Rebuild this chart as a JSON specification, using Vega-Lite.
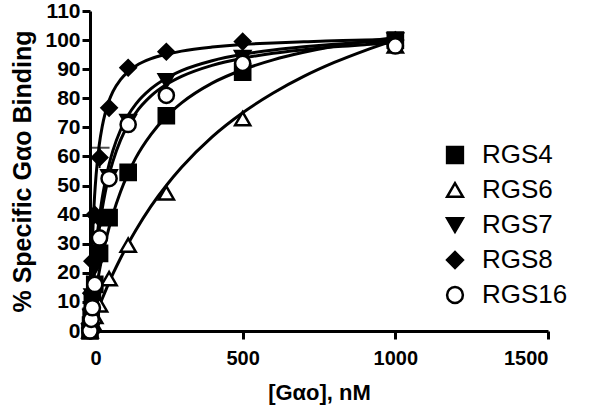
{
  "$schema": "https://vega.github.io/schema/vega-lite/v6.json",
  "width": 458,
  "height": 320,
  "autosize": "none",
  "padding": {"left": 90, "top": 11, "right": 52, "bottom": 82},
  "background": "white",
  "config": {
    "view": {"stroke": null},
    "font": "Liberation Sans",
    "axis": {"grid": false, "domainColor": "black", "domainWidth": 3, "tickColor": "black", "tickWidth": 3, "tickSize": 8, "labelFont": "Liberation Sans", "labelFontWeight": "bold", "labelFontSize": 20, "labelColor": "black", "titleFont": "Liberation Sans", "titleFontWeight": "bold", "titleFontSize": 22, "titleColor": "black"},
    "legend": {"orient": "none", "legendX": 352, "legendY": 131, "labelFont": "Liberation Sans", "labelFontSize": 26, "labelColor": "black", "symbolSize": 250, "symbolStrokeWidth": 2.5, "rowPadding": 9, "labelOffset": 14, "labelLimit": 200}
  },
  "datasets": {
    "fits": [
      {"series": "RGS4", "x": 0, "y": 0}, {"series": "RGS4", "x": 2, "y": 1.62}, {"series": "RGS4", "x": 5, "y": 3.97}, {"series": "RGS4", "x": 10, "y": 7.67}, {"series": "RGS4", "x": 15, "y": 11.1}, {"series": "RGS4", "x": 20, "y": 14.4}, {"series": "RGS4", "x": 30, "y": 20.3}, {"series": "RGS4", "x": 40, "y": 25.6}, {"series": "RGS4", "x": 50, "y": 30.3}, {"series": "RGS4", "x": 62.5, "y": 35.5}, {"series": "RGS4", "x": 75, "y": 40.1}, {"series": "RGS4", "x": 100, "y": 47.9}, {"series": "RGS4", "x": 125, "y": 54.2}, {"series": "RGS4", "x": 150, "y": 59.5}, {"series": "RGS4", "x": 200, "y": 67.6}, {"series": "RGS4", "x": 250, "y": 73.7}, {"series": "RGS4", "x": 300, "y": 78.4}, {"series": "RGS4", "x": 400, "y": 85.2}, {"series": "RGS4", "x": 500, "y": 89.8}, {"series": "RGS4", "x": 600, "y": 93.2}, {"series": "RGS4", "x": 700, "y": 95.8}, {"series": "RGS4", "x": 800, "y": 97.9}, {"series": "RGS4", "x": 900, "y": 99.5}, {"series": "RGS4", "x": 1000, "y": 100.9},
      {"series": "RGS6", "x": 0, "y": 0}, {"series": "RGS6", "x": 2, "y": 0.6}, {"series": "RGS6", "x": 5, "y": 1.49}, {"series": "RGS6", "x": 10, "y": 2.94}, {"series": "RGS6", "x": 15, "y": 4.37}, {"series": "RGS6", "x": 20, "y": 5.77}, {"series": "RGS6", "x": 30, "y": 8.49}, {"series": "RGS6", "x": 40, "y": 11.1}, {"series": "RGS6", "x": 50, "y": 13.6}, {"series": "RGS6", "x": 62.5, "y": 16.7}, {"series": "RGS6", "x": 75, "y": 19.6}, {"series": "RGS6", "x": 100, "y": 25}, {"series": "RGS6", "x": 125, "y": 30}, {"series": "RGS6", "x": 150, "y": 34.6}, {"series": "RGS6", "x": 200, "y": 42.9}, {"series": "RGS6", "x": 250, "y": 50}, {"series": "RGS6", "x": 300, "y": 56.25}, {"series": "RGS6", "x": 400, "y": 66.7}, {"series": "RGS6", "x": 500, "y": 75}, {"series": "RGS6", "x": 600, "y": 81.8}, {"series": "RGS6", "x": 700, "y": 87.5}, {"series": "RGS6", "x": 800, "y": 92.3}, {"series": "RGS6", "x": 900, "y": 96.4}, {"series": "RGS6", "x": 1000, "y": 100},
      {"series": "RGS7", "x": 0, "y": 0}, {"series": "RGS7", "x": 2, "y": 3.89}, {"series": "RGS7", "x": 5, "y": 9.21}, {"series": "RGS7", "x": 10, "y": 16.9}, {"series": "RGS7", "x": 15, "y": 23.5}, {"series": "RGS7", "x": 20, "y": 29.2}, {"series": "RGS7", "x": 30, "y": 38.4}, {"series": "RGS7", "x": 40, "y": 45.7}, {"series": "RGS7", "x": 50, "y": 51.5}, {"series": "RGS7", "x": 62.5, "y": 57.3}, {"series": "RGS7", "x": 75, "y": 62}, {"series": "RGS7", "x": 100, "y": 69.1}, {"series": "RGS7", "x": 125, "y": 74.2}, {"series": "RGS7", "x": 150, "y": 78}, {"series": "RGS7", "x": 200, "y": 83.3}, {"series": "RGS7", "x": 250, "y": 86.9}, {"series": "RGS7", "x": 300, "y": 89.5}, {"series": "RGS7", "x": 400, "y": 92.9}, {"series": "RGS7", "x": 500, "y": 95.1}, {"series": "RGS7", "x": 600, "y": 96.6}, {"series": "RGS7", "x": 700, "y": 97.7}, {"series": "RGS7", "x": 800, "y": 98.6}, {"series": "RGS7", "x": 900, "y": 99.3}, {"series": "RGS7", "x": 1000, "y": 99.8},
      {"series": "RGS8", "x": 0, "y": 0}, {"series": "RGS8", "x": 2, "y": 10.2}, {"series": "RGS8", "x": 5, "y": 22.2}, {"series": "RGS8", "x": 10, "y": 36.4}, {"series": "RGS8", "x": 15, "y": 46.4}, {"series": "RGS8", "x": 20, "y": 53.7}, {"series": "RGS8", "x": 30, "y": 63.75}, {"series": "RGS8", "x": 40, "y": 70.3}, {"series": "RGS8", "x": 50, "y": 75}, {"series": "RGS8", "x": 62.5, "y": 79.2}, {"series": "RGS8", "x": 75, "y": 82.3}, {"series": "RGS8", "x": 100, "y": 86.4}, {"series": "RGS8", "x": 125, "y": 89.2}, {"series": "RGS8", "x": 150, "y": 91.1}, {"series": "RGS8", "x": 200, "y": 93.6}, {"series": "RGS8", "x": 250, "y": 95.1}, {"series": "RGS8", "x": 300, "y": 96.2}, {"series": "RGS8", "x": 400, "y": 97.6}, {"series": "RGS8", "x": 500, "y": 98.5}, {"series": "RGS8", "x": 600, "y": 99}, {"series": "RGS8", "x": 700, "y": 99.4}, {"series": "RGS8", "x": 800, "y": 99.8}, {"series": "RGS8", "x": 900, "y": 100}, {"series": "RGS8", "x": 1000, "y": 100.2},
      {"series": "RGS16", "x": 0, "y": 0}, {"series": "RGS16", "x": 2, "y": 3.39}, {"series": "RGS16", "x": 5, "y": 8.08}, {"series": "RGS16", "x": 10, "y": 15}, {"series": "RGS16", "x": 15, "y": 21}, {"series": "RGS16", "x": 20, "y": 26.25}, {"series": "RGS16", "x": 30, "y": 35}, {"series": "RGS16", "x": 40, "y": 42}, {"series": "RGS16", "x": 50, "y": 47.7}, {"series": "RGS16", "x": 62.5, "y": 53.6}, {"series": "RGS16", "x": 75, "y": 58.3}, {"series": "RGS16", "x": 100, "y": 65.6}, {"series": "RGS16", "x": 125, "y": 70.9}, {"series": "RGS16", "x": 150, "y": 75}, {"series": "RGS16", "x": 200, "y": 80.8}, {"series": "RGS16", "x": 250, "y": 84.7}, {"series": "RGS16", "x": 300, "y": 87.5}, {"series": "RGS16", "x": 400, "y": 91.3}, {"series": "RGS16", "x": 500, "y": 93.75}, {"series": "RGS16", "x": 600, "y": 95.5}, {"series": "RGS16", "x": 700, "y": 96.7}, {"series": "RGS16", "x": 800, "y": 97.7}, {"series": "RGS16", "x": 900, "y": 98.4}, {"series": "RGS16", "x": 1000, "y": 99.1}
    ],
    "points": [
      {"series": "RGS4", "x": 0, "y": 0}, {"series": "RGS4", "x": 1.95, "y": 2}, {"series": "RGS4", "x": 3.9, "y": 5}, {"series": "RGS4", "x": 7.8, "y": 10}, {"series": "RGS4", "x": 15.6, "y": 16}, {"series": "RGS4", "x": 31.25, "y": 26.7}, {"series": "RGS4", "x": 62.5, "y": 39}, {"series": "RGS4", "x": 125, "y": 54.5}, {"series": "RGS4", "x": 250, "y": 74}, {"series": "RGS4", "x": 500, "y": 89}, {"series": "RGS4", "x": 1000, "y": 100},
      {"series": "RGS6", "x": 0, "y": 0}, {"series": "RGS6", "x": 3.9, "y": 2}, {"series": "RGS6", "x": 7.8, "y": 3}, {"series": "RGS6", "x": 15.6, "y": 5}, {"series": "RGS6", "x": 31.25, "y": 9}, {"series": "RGS6", "x": 62.5, "y": 18}, {"series": "RGS6", "x": 125, "y": 29.5}, {"series": "RGS6", "x": 250, "y": 47.5}, {"series": "RGS6", "x": 500, "y": 73}, {"series": "RGS6", "x": 1000, "y": 98},
      {"series": "RGS7", "x": 0, "y": 0}, {"series": "RGS7", "x": 3.9, "y": 5}, {"series": "RGS7", "x": 7.8, "y": 12}, {"series": "RGS7", "x": 15.6, "y": 22}, {"series": "RGS7", "x": 31.25, "y": 38}, {"series": "RGS7", "x": 62.5, "y": 53}, {"series": "RGS7", "x": 125, "y": 72}, {"series": "RGS7", "x": 250, "y": 86}, {"series": "RGS7", "x": 500, "y": 94}, {"series": "RGS7", "x": 1000, "y": 100},
      {"series": "RGS8", "x": 0, "y": 1}, {"series": "RGS8", "x": 3.9, "y": 13}, {"series": "RGS8", "x": 7.8, "y": 24}, {"series": "RGS8", "x": 15.6, "y": 40}, {"series": "RGS8", "x": 31.25, "y": 59.6}, {"series": "RGS8", "x": 62.5, "y": 76.7}, {"series": "RGS8", "x": 125, "y": 90.5}, {"series": "RGS8", "x": 250, "y": 96}, {"series": "RGS8", "x": 500, "y": 99.5}, {"series": "RGS8", "x": 1000, "y": 100},
      {"series": "RGS16", "x": 0, "y": 0}, {"series": "RGS16", "x": 3.9, "y": 4}, {"series": "RGS16", "x": 7.8, "y": 8}, {"series": "RGS16", "x": 15.6, "y": 16}, {"series": "RGS16", "x": 31.25, "y": 32}, {"series": "RGS16", "x": 62.5, "y": 52.4}, {"series": "RGS16", "x": 125, "y": 71}, {"series": "RGS16", "x": 250, "y": 81}, {"series": "RGS16", "x": 500, "y": 92}, {"series": "RGS16", "x": 1000, "y": 98}
    ],
    "errs": [
      {"series": "RGS8", "x": 31.25, "lo": 56, "hi": 63}
    ]
  },
  "encoding": {
    "x": {"field": "x", "type": "quantitative", "scale": {"domain": [0, 1500], "nice": false}, "axis": {"values": [0, 500, 1000, 1500], "format": "d", "title": "[Gαo], nM", "titlePadding": 14, "labelPadding": 9}},
    "y": {"field": "y", "type": "quantitative", "scale": {"domain": [0, 110], "nice": false}, "axis": {"values": [0, 10, 20, 30, 40, 50, 60, 70, 80, 90, 100, 110], "format": "d", "title": "% Specific Gαo Binding", "titleFontSize": 25, "labelFontSize": 21, "titlePadding": 9, "labelPadding": 2}}
  },
  "layer": [
    {
      "data": {"name": "fits"},
      "mark": {"type": "line", "color": "black", "strokeWidth": 3, "interpolate": "monotone"},
      "encoding": {"detail": {"field": "series"}}
    },
    {
      "data": {"name": "errs"},
      "mark": {"type": "rule", "color": "black", "strokeWidth": 2},
      "encoding": {"y": {"field": "lo", "type": "quantitative"}, "y2": {"field": "hi"}}
    },
    {
      "data": {"name": "errs"},
      "mark": {"type": "tick", "color": "black", "thickness": 2, "size": 20, "orient": "horizontal"},
      "encoding": {"y": {"field": "hi", "type": "quantitative"}}
    },
    {
      "data": {"name": "points"},
      "mark": {"type": "point", "size": 230, "strokeWidth": 2.5, "opacity": 1, "filled": false},
      "encoding": {
        "shape": {"field": "series", "type": "nominal", "scale": {"domain": ["RGS4", "RGS6", "RGS7", "RGS8", "RGS16"], "range": ["square", "triangle-up", "triangle-down", "diamond", "circle"]}, "legend": {"title": null}},
        "fill": {"field": "series", "type": "nominal", "scale": {"domain": ["RGS4", "RGS6", "RGS7", "RGS8", "RGS16"], "range": ["black", "white", "black", "black", "white"]}, "legend": {"title": null}},
        "stroke": {"field": "series", "type": "nominal", "scale": {"domain": ["RGS4", "RGS6", "RGS7", "RGS8", "RGS16"], "range": ["black", "black", "black", "black", "black"]}, "legend": {"title": null}}
      }
    }
  ]
}
